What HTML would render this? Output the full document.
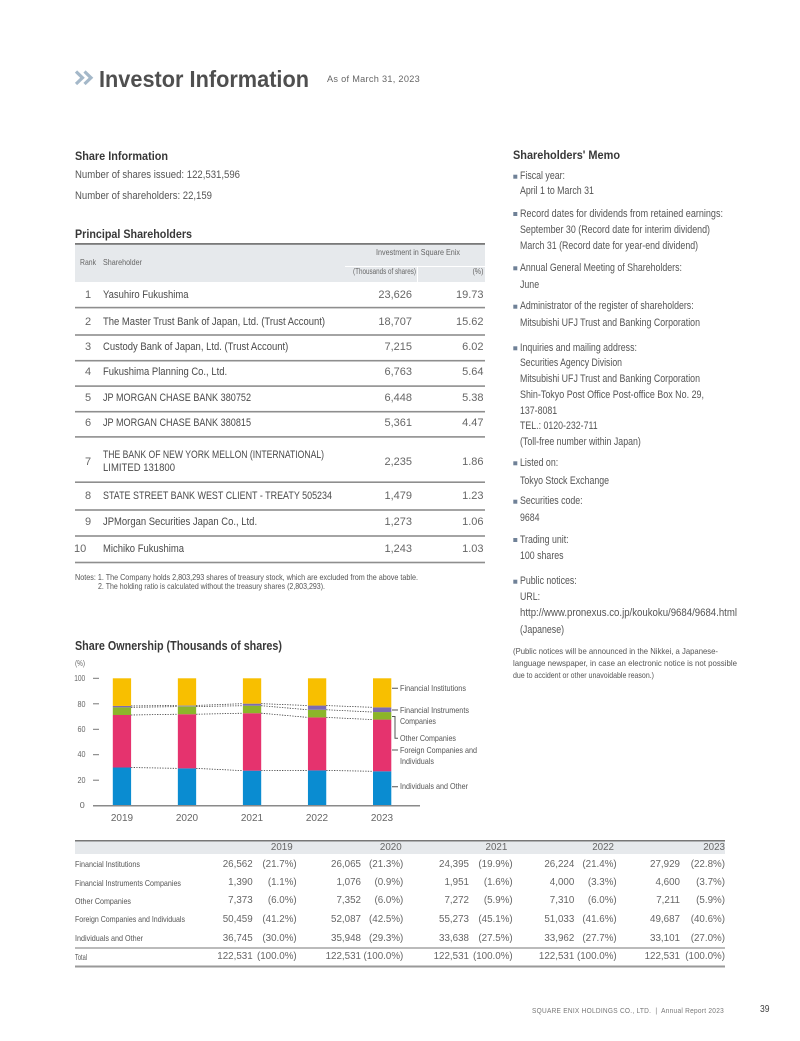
<!DOCTYPE html>
<html>
<head>
<meta charset="utf-8">
<style>
html,body{margin:0;padding:0;background:#fff;}
body{width:800px;height:1041px;position:relative;overflow:hidden;font-family:"Liberation Sans",Arial,sans-serif;color:#555;}
.t{position:absolute;white-space:nowrap;line-height:1;transform-origin:0 50%;}
.r{transform-origin:100% 50%;}
.c{transform:scaleX(.82);}
.m{transform:scaleX(.8);}
.k{transform:scaleX(.86);}
.b{font-weight:bold;color:#383838;}
.h{font-size:12px;}
.nm{font-size:11px;color:#4a4a4a;}
.nu{font-size:11px;color:#666;}
.th{font-size:8px;color:#666;}
.lg{font-size:8.5px;color:#555;}
.bl{font-size:8.5px;color:#555;}
.bn{font-size:9.8px;color:#666;}
.me{font-size:11px;color:#555;}
.yr{font-size:10px;color:#666;width:40px;text-align:center;}
.ya{font-size:8.5px;color:#666;}
svg{position:absolute;left:0;top:0;}
</style>
</head>
<body>
<svg width="800" height="1041" viewBox="0 0 800 1041">
  <polyline points="76,71.5 82.5,77.8 76,84" fill="none" stroke="#a4b8c9" stroke-width="3.2"/>
  <polyline points="84.5,71.5 91,77.8 84.5,84" fill="none" stroke="#a4b8c9" stroke-width="3.2"/>

  <rect x="75" y="244" width="410" height="38" fill="#e6e9ec"/>
  <rect x="75" y="243" width="410" height="1.8" fill="#7a7a7a"/>
  <line x1="345" y1="266.5" x2="485" y2="266.5" stroke="#fff" stroke-width="1"/>
  <line x1="417.5" y1="266.5" x2="417.5" y2="282" stroke="#fff" stroke-width="1"/>
  <g fill="#8e8e8e">
    <rect x="75" y="306.8" width="410" height="1.6"/>
    <rect x="75" y="334.2" width="410" height="1.6"/>
    <rect x="75" y="359.9" width="410" height="1.6"/>
    <rect x="75" y="385.3" width="410" height="1.6"/>
    <rect x="75" y="410.9" width="410" height="1.6"/>
    <rect x="75" y="436.1" width="410" height="1.6"/>
    <rect x="75" y="481.4" width="410" height="1.6"/>
    <rect x="75" y="509.2" width="410" height="1.6"/>
    <rect x="75" y="535.2" width="410" height="1.6"/>
    <rect x="75" y="561.7" width="410" height="1.6"/>
  </g>

  <g fill="#6f8197">
    <rect x="513.3" y="174.7" width="4" height="4"/>
    <rect x="513.3" y="212" width="4" height="4"/>
    <rect x="513.3" y="266.3" width="4" height="4"/>
    <rect x="513.3" y="304.7" width="4" height="4"/>
    <rect x="513.3" y="346.3" width="4" height="4"/>
    <rect x="513.3" y="461.3" width="4" height="4"/>
    <rect x="513.3" y="499.7" width="4" height="4"/>
    <rect x="513.3" y="538" width="4" height="4"/>
    <rect x="513.3" y="579.7" width="4" height="4"/>
  </g>

  <g stroke="#777" stroke-width="1">
    <line x1="93" y1="805.7" x2="99" y2="805.7"/>
    <line x1="93" y1="780.2" x2="99" y2="780.2"/>
    <line x1="93" y1="754.7" x2="99" y2="754.7"/>
    <line x1="93" y1="729.3" x2="99" y2="729.3"/>
    <line x1="93" y1="703.8" x2="99" y2="703.8"/>
    <line x1="93" y1="678.3" x2="99" y2="678.3"/>
  </g>

  <g>
    <rect x="112.8" y="767.5" width="18.3" height="38.2" fill="#0a8cd1"/>
    <rect x="112.8" y="715.0" width="18.3" height="52.5" fill="#e5336e"/>
    <rect x="112.8" y="707.35" width="18.3" height="7.65" fill="#8cb52a"/>
    <rect x="112.8" y="705.95" width="18.3" height="1.4" fill="#7b6bb3"/>
    <rect x="112.8" y="678.3" width="18.3" height="27.65" fill="#f8bf00"/>

    <rect x="177.85" y="768.37" width="18.3" height="37.33" fill="#0a8cd1"/>
    <rect x="177.85" y="714.23" width="18.3" height="54.14" fill="#e5336e"/>
    <rect x="177.85" y="706.58" width="18.3" height="7.65" fill="#8cb52a"/>
    <rect x="177.85" y="705.44" width="18.3" height="1.14" fill="#9a98a8"/>
    <rect x="177.85" y="678.3" width="18.3" height="27.14" fill="#f8bf00"/>

    <rect x="242.9" y="770.66" width="18.3" height="35.04" fill="#0a8cd1"/>
    <rect x="242.9" y="713.21" width="18.3" height="57.45" fill="#e5336e"/>
    <rect x="242.9" y="705.69" width="18.3" height="7.52" fill="#8cb52a"/>
    <rect x="242.9" y="703.65" width="18.3" height="2.04" fill="#7b6bb3"/>
    <rect x="242.9" y="678.3" width="18.3" height="25.35" fill="#f8bf00"/>

    <rect x="307.95" y="770.41" width="18.3" height="35.29" fill="#0a8cd1"/>
    <rect x="307.95" y="717.41" width="18.3" height="53.0" fill="#e5336e"/>
    <rect x="307.95" y="709.77" width="18.3" height="7.64" fill="#8cb52a"/>
    <rect x="307.95" y="705.56" width="18.3" height="4.21" fill="#7b6bb3"/>
    <rect x="307.95" y="678.3" width="18.3" height="27.26" fill="#f8bf00"/>

    <rect x="373" y="771.3" width="18.3" height="34.4" fill="#0a8cd1"/>
    <rect x="373" y="719.58" width="18.3" height="51.72" fill="#e5336e"/>
    <rect x="373" y="712.06" width="18.3" height="7.52" fill="#8cb52a"/>
    <rect x="373" y="707.35" width="18.3" height="4.71" fill="#7b6bb3"/>
    <rect x="373" y="678.3" width="18.3" height="29.05" fill="#f8bf00"/>
  </g>
  <line x1="93" y1="805.7" x2="420" y2="805.7" stroke="#8a8a8a" stroke-width="1.5"/>

  <g fill="none" stroke="#3a3a3a" stroke-width=".8" stroke-dasharray="1.3 1.3">
    <path d="M131.1 767.5L177.85 768.37M196.15 768.37L242.9 770.66M261.2 770.66L307.95 770.41M326.25 770.41L373 771.3"/>
    <path d="M131.1 715.0L177.85 714.23M196.15 714.23L242.9 713.21M261.2 713.21L307.95 717.41M326.25 717.41L373 719.58"/>
    <path d="M131.1 707.35L177.85 706.58M196.15 706.58L242.9 705.69M261.2 705.69L307.95 709.77M326.25 709.77L373 712.06"/>
    <path d="M131.1 705.95L177.85 705.44M196.15 705.44L242.9 703.65M261.2 703.65L307.95 705.56M326.25 705.56L373 707.35"/>
  </g>

  <path d="M392 688.3H398M392 710H398M392 750H398M392 786.7H398M392 716.5H395V738.3H398" fill="none" stroke="#555" stroke-width="1"/>

  <rect x="75" y="841" width="650" height="13" fill="#e6e9ec"/>
  <rect x="75" y="840" width="650" height="1.5" fill="#777"/>
  <rect x="75" y="947.5" width="650" height="1" fill="#777"/>
  <rect x="75" y="965.5" width="650" height="2" fill="#999"/>
</svg>

<div class="t" style="left:99px;top:67.5px;font-size:23px;font-weight:bold;color:#4f4f4f;transform:scaleX(.91);--w:210px">Investor Information</div>
<div class="t" style="left:327px;top:75.3px;font-size:9.5px;color:#666;letter-spacing:.3px;--w:93px">As of March 31, 2023</div>

<div class="t b h c" style="left:75px;top:149.5px;--w:93px">Share Information</div>
<div class="t me c" style="left:75px;top:169.5px;--w:165px">Number of shares issued: 122,531,596</div>
<div class="t me c" style="left:75px;top:190.5px;--w:137px">Number of shareholders: 22,159</div>

<div class="t b h c" style="left:75px;top:227.5px;--w:117px">Principal Shareholders</div>

<div class="t th c" style="left:80px;top:259px;--w:16px">Rank</div>
<div class="t th c" style="left:103px;top:259px;--w:39px">Shareholder</div>
<div class="t th c" style="left:375.7px;top:249px;--w:84px">Investment in Square Enix</div>
<div class="t th c" style="left:352.7px;top:268px;--w:63px">(Thousands of shares)</div>
<div class="t th r c" style="right:316.5px;top:268px;--w:11px">(%)</div>

<div class="t nu" style="left:85px;top:289.5px">1</div>
<div class="t nm k" style="left:103px;top:289.5px">Yasuhiro Fukushima</div>
<div class="t nu r" style="right:388px;top:289.5px">23,626</div>
<div class="t nu r" style="right:316.5px;top:289.5px">19.73</div>

<div class="t nu" style="left:85px;top:316.5px">2</div>
<div class="t nm k" style="left:103px;top:316.5px">The Master Trust Bank of Japan, Ltd. (Trust Account)</div>
<div class="t nu r" style="right:388px;top:316.5px">18,707</div>
<div class="t nu r" style="right:316.5px;top:316.5px">15.62</div>

<div class="t nu" style="left:85px;top:342.2px">3</div>
<div class="t nm k" style="left:103px;top:342.2px">Custody Bank of Japan, Ltd. (Trust Account)</div>
<div class="t nu r" style="right:388px;top:342.2px">7,215</div>
<div class="t nu r" style="right:316.5px;top:342.2px">6.02</div>

<div class="t nu" style="left:85px;top:367.3px">4</div>
<div class="t nm k" style="left:103px;top:367.3px">Fukushima Planning Co., Ltd.</div>
<div class="t nu r" style="right:388px;top:367.3px">6,763</div>
<div class="t nu r" style="right:316.5px;top:367.3px">5.64</div>

<div class="t nu" style="left:85px;top:392.7px">5</div>
<div class="t nm c" style="left:103px;top:392.7px;--w:148px">JP MORGAN CHASE BANK 380752</div>
<div class="t nu r" style="right:388px;top:392.7px">6,448</div>
<div class="t nu r" style="right:316.5px;top:392.7px">5.38</div>

<div class="t nu" style="left:85px;top:417.7px">6</div>
<div class="t nm c" style="left:103px;top:417.7px;--w:148px">JP MORGAN CHASE BANK 380815</div>
<div class="t nu r" style="right:388px;top:417.7px">5,361</div>
<div class="t nu r" style="right:316.5px;top:417.7px">4.47</div>

<div class="t nu" style="left:85px;top:456.5px">7</div>
<div class="t nm c" style="left:103px;top:450.2px;--w:221px">THE BANK OF NEW YORK MELLON (INTERNATIONAL)</div>
<div class="t nm c" style="left:103px;top:462.8px;--w:72px">LIMITED 131800</div>
<div class="t nu r" style="right:388px;top:456.5px">2,235</div>
<div class="t nu r" style="right:316.5px;top:456.5px">1.86</div>

<div class="t nu" style="left:85px;top:491.2px">8</div>
<div class="t nm c" style="left:103px;top:491.2px;--w:229px">STATE STREET BANK WEST CLIENT - TREATY 505234</div>
<div class="t nu r" style="right:388px;top:491.2px">1,479</div>
<div class="t nu r" style="right:316.5px;top:491.2px">1.23</div>

<div class="t nu" style="left:85px;top:516.5px">9</div>
<div class="t nm k" style="left:103px;top:516.5px">JPMorgan Securities Japan Co., Ltd.</div>
<div class="t nu r" style="right:388px;top:516.5px">1,273</div>
<div class="t nu r" style="right:316.5px;top:516.5px">1.06</div>

<div class="t nu" style="left:74px;top:543.5px">10</div>
<div class="t nm k" style="left:103px;top:543.5px">Michiko Fukushima</div>
<div class="t nu r" style="right:388px;top:543.5px">1,243</div>
<div class="t nu r" style="right:316.5px;top:543.5px">1.03</div>

<div class="t bl c" style="left:75px;top:572.7px;--w:343px">Notes: 1. The Company holds 2,803,293 shares of treasury stock, which are excluded from the above table.</div>
<div class="t bl c" style="left:98px;top:582.2px;--w:227px">2. The holding ratio is calculated without the treasury shares (2,803,293).</div>

<div class="t b h c" style="left:75px;top:640px;font-size:12.5px;--w:207px">Share Ownership (Thousands of shares)</div>
<div class="t ya c" style="left:75px;top:660.3px;font-size:8px;--w:10px">(%)</div>
<div class="t ya r c" style="right:715px;top:674px;--w:11px">100</div>
<div class="t ya r c" style="right:715px;top:699.5px;--w:8px">80</div>
<div class="t ya r c" style="right:715px;top:725px;--w:8px">60</div>
<div class="t ya r c" style="right:715px;top:750.4px;--w:8px">40</div>
<div class="t ya r c" style="right:715px;top:775.9px;--w:8px">20</div>
<div class="t ya r c" style="right:715px;top:801.4px;--w:5px">0</div>

<div class="t yr" style="left:102px;top:814px">2019</div>
<div class="t yr" style="left:167px;top:814px">2020</div>
<div class="t yr" style="left:232px;top:814px">2021</div>
<div class="t yr" style="left:297px;top:814px">2022</div>
<div class="t yr" style="left:362px;top:814px">2023</div>

<div class="t lg c" style="left:400px;top:684px;--w:66px">Financial Institutions</div>
<div class="t lg c" style="left:400px;top:705.7px;--w:69px">Financial Instruments</div>
<div class="t lg c" style="left:400px;top:717.4px;--w:36px">Companies</div>
<div class="t lg c" style="left:400px;top:734px;--w:56px">Other Companies</div>
<div class="t lg c" style="left:400px;top:745.7px;--w:77px">Foreign Companies and</div>
<div class="t lg c" style="left:400px;top:756.7px;--w:34px">Individuals</div>
<div class="t lg c" style="left:400px;top:782.4px;--w:68px">Individuals and Other</div>

<div class="t b h c" style="left:513px;top:149px;--w:107px">Shareholders' Memo</div>
<div class="t me m" style="left:520px;top:171.2px">Fiscal year:</div>
<div class="t me m" style="left:520px;top:186.2px">April 1 to March 31</div>
<div class="t me m" style="left:520px;top:208.5px;--w:203px">Record dates for dividends from retained earnings:</div>
<div class="t me m" style="left:520px;top:224.5px;--w:190px">September 30 (Record date for interim dividend)</div>
<div class="t me m" style="left:520px;top:240.5px">March 31 (Record date for year-end dividend)</div>
<div class="t me m" style="left:520px;top:262.8px">Annual General Meeting of Shareholders:</div>
<div class="t me m" style="left:520px;top:279.5px">June</div>
<div class="t me m" style="left:520px;top:301.2px">Administrator of the register of shareholders:</div>
<div class="t me m" style="left:520px;top:317.8px;--w:180px">Mitsubishi UFJ Trust and Banking Corporation</div>
<div class="t me m" style="left:520px;top:342.8px">Inquiries and mailing address:</div>
<div class="t me m" style="left:520px;top:357.8px;--w:102px">Securities Agency Division</div>
<div class="t me m" style="left:520px;top:373.5px;--w:180px">Mitsubishi UFJ Trust and Banking Corporation</div>
<div class="t me m" style="left:520px;top:389.5px;--w:184px">Shin-Tokyo Post Office Post-office Box No. 29,</div>
<div class="t me m" style="left:520px;top:405.5px">137-8081</div>
<div class="t me m" style="left:520px;top:421.2px">TEL.: 0120-232-711</div>
<div class="t me m" style="left:520px;top:436.8px">(Toll-free number within Japan)</div>
<div class="t me m" style="left:520px;top:457.8px">Listed on:</div>
<div class="t me m" style="left:520px;top:475.5px">Tokyo Stock Exchange</div>
<div class="t me m" style="left:520px;top:496.2px">Securities code:</div>
<div class="t me m" style="left:520px;top:512.8px">9684</div>
<div class="t me m" style="left:520px;top:534.5px">Trading unit:</div>
<div class="t me m" style="left:520px;top:551.2px">100 shares</div>
<div class="t me m" style="left:520px;top:576.2px">Public notices:</div>
<div class="t me m" style="left:520px;top:591.8px">URL:</div>
<div class="t me m" style="left:520px;top:607.8px;--w:217px">http://www.pronexus.co.jp/koukoku/9684/9684.html</div>
<div class="t me m" style="left:520px;top:624.5px">(Japanese)</div>
<div class="t bl c" style="left:513px;top:647.4px;--w:205px">(Public notices will be announced in the Nikkei, a Japanese-</div>
<div class="t bl c" style="left:513px;top:659px;--w:224px">language newspaper, in case an electronic notice is not possible</div>
<div class="t bl c" style="left:513px;top:670.7px;--w:141px">due to accident or other unavoidable reason.)</div>

<div class="t bn r" style="right:507.3px;top:843px">2019</div>
<div class="t bn r" style="right:398.3px;top:843px">2020</div>
<div class="t bn r" style="right:292.7px;top:843px">2021</div>
<div class="t bn r" style="right:186px;top:843px">2022</div>
<div class="t bn r" style="right:75px;top:843px">2023</div>

<div class="t bl c" style="left:75px;top:860.2px;--w:65px">Financial Institutions</div>
<div class="t bl c" style="left:75px;top:878.7px;--w:106px">Financial Instruments Companies</div>
<div class="t bl c" style="left:75px;top:897px;--w:56px">Other Companies</div>
<div class="t bl c" style="left:75px;top:915.4px;--w:110px">Foreign Companies and Individuals</div>
<div class="t bl c" style="left:75px;top:934.2px;--w:68px">Individuals and Other</div>
<div class="t bl c" style="left:75px;top:952.7px;--w:12px">Total</div>

<div class="t bn r" style="right:547.3px;top:859.5px">26,562</div>
<div class="t bn r" style="right:503.3px;top:859.5px">(21.7%)</div>
<div class="t bn r" style="right:439px;top:859.5px">26,065</div>
<div class="t bn r" style="right:396.7px;top:859.5px">(21.3%)</div>
<div class="t bn r" style="right:331px;top:859.5px">24,395</div>
<div class="t bn r" style="right:287.3px;top:859.5px">(19.9%)</div>
<div class="t bn r" style="right:225.7px;top:859.5px">26,224</div>
<div class="t bn r" style="right:183.3px;top:859.5px">(21.4%)</div>
<div class="t bn r" style="right:120px;top:859.5px">27,929</div>
<div class="t bn r" style="right:75px;top:859.5px">(22.8%)</div>

<div class="t bn r" style="right:547.3px;top:878px">1,390</div>
<div class="t bn r" style="right:503.3px;top:878px">(1.1%)</div>
<div class="t bn r" style="right:439px;top:878px">1,076</div>
<div class="t bn r" style="right:396.7px;top:878px">(0.9%)</div>
<div class="t bn r" style="right:331px;top:878px">1,951</div>
<div class="t bn r" style="right:287.3px;top:878px">(1.6%)</div>
<div class="t bn r" style="right:225.7px;top:878px">4,000</div>
<div class="t bn r" style="right:183.3px;top:878px">(3.3%)</div>
<div class="t bn r" style="right:120px;top:878px">4,600</div>
<div class="t bn r" style="right:75px;top:878px">(3.7%)</div>

<div class="t bn r" style="right:547.3px;top:896.3px">7,373</div>
<div class="t bn r" style="right:503.3px;top:896.3px">(6.0%)</div>
<div class="t bn r" style="right:439px;top:896.3px">7,352</div>
<div class="t bn r" style="right:396.7px;top:896.3px">(6.0%)</div>
<div class="t bn r" style="right:331px;top:896.3px">7,272</div>
<div class="t bn r" style="right:287.3px;top:896.3px">(5.9%)</div>
<div class="t bn r" style="right:225.7px;top:896.3px">7,310</div>
<div class="t bn r" style="right:183.3px;top:896.3px">(6.0%)</div>
<div class="t bn r" style="right:120px;top:896.3px">7,211</div>
<div class="t bn r" style="right:75px;top:896.3px">(5.9%)</div>

<div class="t bn r" style="right:547.3px;top:914.7px">50,459</div>
<div class="t bn r" style="right:503.3px;top:914.7px">(41.2%)</div>
<div class="t bn r" style="right:439px;top:914.7px">52,087</div>
<div class="t bn r" style="right:396.7px;top:914.7px">(42.5%)</div>
<div class="t bn r" style="right:331px;top:914.7px">55,273</div>
<div class="t bn r" style="right:287.3px;top:914.7px">(45.1%)</div>
<div class="t bn r" style="right:225.7px;top:914.7px">51,033</div>
<div class="t bn r" style="right:183.3px;top:914.7px">(41.6%)</div>
<div class="t bn r" style="right:120px;top:914.7px">49,687</div>
<div class="t bn r" style="right:75px;top:914.7px">(40.6%)</div>

<div class="t bn r" style="right:547.3px;top:933.5px">36,745</div>
<div class="t bn r" style="right:503.3px;top:933.5px">(30.0%)</div>
<div class="t bn r" style="right:439px;top:933.5px">35,948</div>
<div class="t bn r" style="right:396.7px;top:933.5px">(29.3%)</div>
<div class="t bn r" style="right:331px;top:933.5px">33,638</div>
<div class="t bn r" style="right:287.3px;top:933.5px">(27.5%)</div>
<div class="t bn r" style="right:225.7px;top:933.5px">33,962</div>
<div class="t bn r" style="right:183.3px;top:933.5px">(27.7%)</div>
<div class="t bn r" style="right:120px;top:933.5px">33,101</div>
<div class="t bn r" style="right:75px;top:933.5px">(27.0%)</div>

<div class="t bn r" style="right:547.3px;top:952px">122,531</div>
<div class="t bn r" style="right:503.3px;top:952px">(100.0%)</div>
<div class="t bn r" style="right:439px;top:952px">122,531</div>
<div class="t bn r" style="right:396.7px;top:952px">(100.0%)</div>
<div class="t bn r" style="right:331px;top:952px">122,531</div>
<div class="t bn r" style="right:287.3px;top:952px">(100.0%)</div>
<div class="t bn r" style="right:225.7px;top:952px">122,531</div>
<div class="t bn r" style="right:183.3px;top:952px">(100.0%)</div>
<div class="t bn r" style="right:120px;top:952px">122,531</div>
<div class="t bn r" style="right:75px;top:952px">(100.0%)</div>

<div class="t" style="left:531.7px;top:1006.7px;font-size:7.5px;color:#777;letter-spacing:.3px;--w:192px">SQUARE ENIX HOLDINGS CO., LTD. &nbsp;|&nbsp; Annual Report 2023</div>
<div class="t" style="left:760px;top:1005px;font-size:10px;color:#444;--w:9.5px">39</div>

<script>
(function(){
  var els=document.querySelectorAll('.t');
  for(var i=0;i<els.length;i++){
    var e=els[i];
    var w=parseFloat(e.style.getPropertyValue('--w'));
    if(!w) continue;
    e.style.transform='none';
    var n=e.getBoundingClientRect().width;
    if(n>0) e.style.transform='scaleX('+(w/n)+')';
  }
})();
</script>
</body>
</html>
